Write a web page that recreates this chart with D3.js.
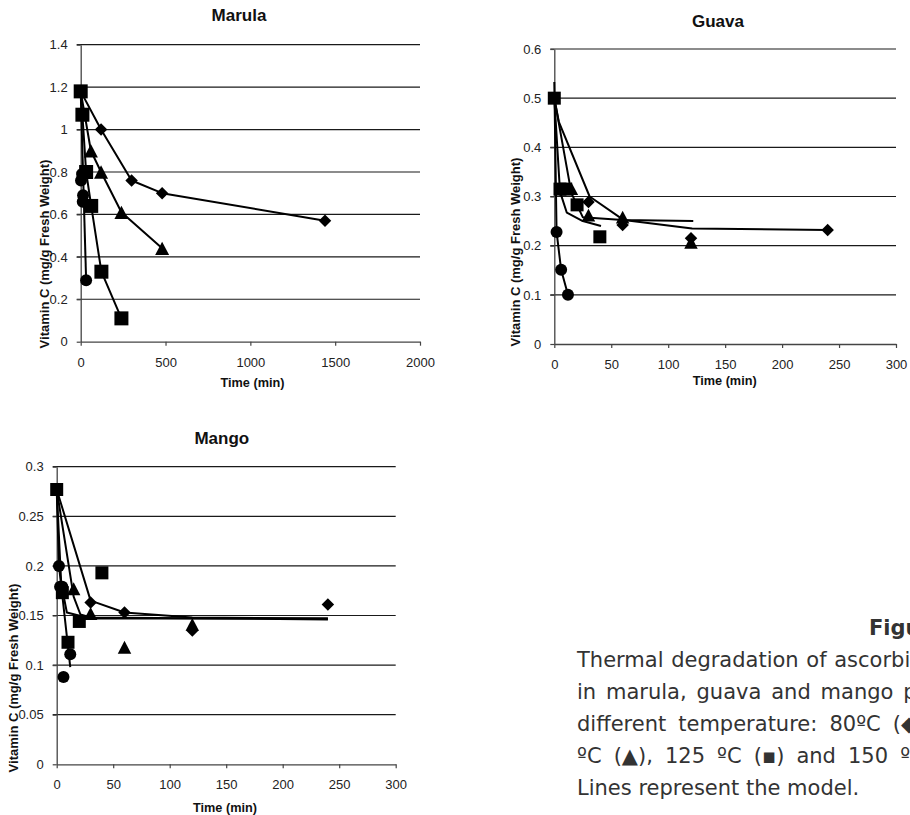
<!DOCTYPE html>
<html><head><meta charset="utf-8">
<script src="https://cdn.jsdelivr.net/npm/d3@7"></script>
<style>html,body{margin:0;padding:0;background:#fff;overflow:hidden}</style>
</head><body>
<svg id="chart" width="910" height="815"></svg>
<script>
// ================= DATA =================
const temperatures = ["80 ºC", "100 ºC", "125 ºC", "150 ºC"];
const markerShapes = ["diamond", "triangle", "square", "circle"];

// ---- Marula ----
const marulaXTicks = [0, 500, 1000, 1500, 2000];
const marulaYTicks = [0, 0.2, 0.4, 0.6, 0.8, 1, 1.2, 1.4];
const marulaTime80 = [120, 300, 480, 1440];
const marulaVit80 = [1.00, 0.76, 0.70, 0.57];
const marulaTime100 = [60, 120, 240, 480];
const marulaVit100 = [0.90, 0.80, 0.61, 0.44];
const marulaTime125 = [0, 10, 32, 62, 122, 240];
const marulaVit125 = [1.18, 1.07, 0.80, 0.64, 0.33, 0.11];
const marulaTime150 = [8, 2, 14, 12, 32];
const marulaVit150 = [0.79, 0.76, 0.69, 0.66, 0.29];
const marulaModelTime80 = [0, 120, 300, 480, 1440];
const marulaModelVit80 = [1.18, 1.00, 0.76, 0.70, 0.57];
const marulaModelTime100 = [0, 60, 120, 240, 480];
const marulaModelVit100 = [1.18, 0.90, 0.80, 0.61, 0.44];
const marulaModelTime125 = [0, 10, 32, 62, 122, 240];
const marulaModelVit125 = [1.18, 1.07, 0.80, 0.64, 0.33, 0.11];
const marulaModelTime150 = [0, 32];
const marulaModelVit150 = [1.18, 0.29];

// ---- Guava ----
const guavaXTicks = [0, 50, 100, 150, 200, 250, 300];
const guavaYTicks = [0, 0.1, 0.2, 0.3, 0.4, 0.5, 0.6];
const guavaTime80 = [30, 60, 120, 240];
const guavaVit80 = [0.289, 0.242, 0.215, 0.232];
const guavaTime100 = [15, 30, 60, 120];
const guavaVit100 = [0.316, 0.262, 0.258, 0.207];
const guavaTime125 = [0, 5, 10, 20, 40];
const guavaVit125 = [0.50, 0.315, 0.315, 0.283, 0.218];
const guavaTime150 = [2, 6, 12];
const guavaVit150 = [0.228, 0.151, 0.100];
const guavaModelTime80 = [0, 4, 31, 61, 121, 240];
const guavaModelVit80 = [0.50, 0.452, 0.300, 0.252, 0.235, 0.232];
const guavaModelTime100 = [0, 15, 25, 60, 122];
const guavaModelVit100 = [0.50, 0.307, 0.258, 0.252, 0.250];
const guavaModelTime125 = [0, 5, 11, 25, 41];
const guavaModelVit125 = [0.50, 0.31, 0.267, 0.250, 0.240];
const guavaModelTime150 = [0, 2, 6, 12];
const guavaModelVit150 = [0.533, 0.228, 0.151, 0.100];

// ---- Mango ----
const mangoXTicks = [0, 50, 100, 150, 200, 250, 300];
const mangoYTicks = [0, 0.05, 0.1, 0.15, 0.2, 0.25, 0.3];
const mangoTime80 = [30, 60, 120, 240];
const mangoVit80 = [0.163, 0.153, 0.135, 0.161];
const mangoTime100 = [15, 30, 60, 120];
const mangoVit100 = [0.177, 0.152, 0.118, 0.141];
const mangoTime125 = [0, 5, 10, 20, 40];
const mangoVit125 = [0.277, 0.173, 0.123, 0.144, 0.193];
const mangoTime150 = [2, 3, 5, 12, 6];
const mangoVit150 = [0.200, 0.179, 0.179, 0.111, 0.088];
const mangoModelTime80 = [0, 30, 60, 120, 240];
const mangoModelVit80 = [0.277, 0.165, 0.153, 0.148, 0.147];
const mangoModelTime100 = [0, 15, 21, 30, 240];
const mangoModelVit100 = [0.277, 0.169, 0.151, 0.148, 0.146];
const mangoModelTime125 = [0, 4, 9, 30, 240];
const mangoModelVit125 = [0.277, 0.182, 0.153, 0.147, 0.147];
const mangoModelTime150 = [0, 2, 5, 12];
const mangoModelVit150 = [0.277, 0.20, 0.17, 0.098];

// ---- Caption ----
const captionTitle = "Figure 1";
const captionLines = [
  "Thermal degradation of ascorbic acid",
  "in marula, guava and mango pulps at",
  "different temperature: 80ºC (◆), 100",
  "ºC (▲), 125 ºC (▪) and 150 ºC (●).",
  "Lines represent the model."
];

// ================= DRAWING =================
const svg = d3.select("#chart");
const FONT = "'Liberation Sans', Arial, sans-serif";
const zip = (t, v) => t.map((d, i) => ({t: d, v: v[i]}));

function markerPath(shape, s) {
  if (shape === "square") return `M${-s/2},${-s/2}h${s}v${s}h${-s}Z`;
  if (shape === "diamond") { const r = s * 0.5; return `M0,${-r}L${r},0L0,${r}L${-r},0Z`; }
  if (shape === "triangle") { const w = s, h = s * 0.95; return `M0,${-h/2}L${w/2},${h/2}L${-w/2},${h/2}Z`; }
  return d3.symbol(d3.symbolCircle, Math.PI * (s / 2) * (s / 2))();
}

function drawPanel(p) {
  const x = d3.scaleLinear().domain([p.xTicks[0], p.xTicks[p.xTicks.length - 1]]).range([p.left, p.right]);
  const y = d3.scaleLinear().domain([p.yTicks[0], p.yTicks[p.yTicks.length - 1]]).range([p.bottom, p.top]);
  const g = svg.append("g");

  g.selectAll("line.grid").data(p.yTicks.filter(d => d > 0)).join("line")
    .attr("x1", p.left - 4).attr("x2", p.right)
    .attr("y1", d => y(d)).attr("y2", d => y(d))
    .attr("stroke", "#1a1a1a").attr("stroke-width", 1.2);

  const fmt = d => String(+d.toFixed(2));
  const ya = g.append("g").attr("transform", `translate(${p.left},0)`)
    .call(d3.axisLeft(y).tickValues(p.yTicks).tickFormat(fmt).tickSize(4).tickSizeOuter(0).tickPadding(9));
  const xa = g.append("g").attr("transform", `translate(0,${p.bottom})`)
    .call(d3.axisBottom(x).tickValues(p.xTicks).tickFormat(fmt).tickSize(4).tickSizeOuter(0));
  [ya, xa].forEach(a => {
    a.select(".domain").attr("stroke", "#444").attr("stroke-width", 1.3);
    a.selectAll(".tick line").attr("stroke", "#444").attr("stroke-width", 1.2);
    a.selectAll("text").attr("font-family", FONT).attr("font-size", 13).attr("fill", "#222");
  });
  xa.selectAll("text").attr("y", 25).attr("dy", 0);

  const line = d3.line().x(d => x(d.t)).y(d => y(d.v));
  p.models.forEach(m => {
    g.append("path").datum(m).attr("d", line)
      .attr("fill", "none").attr("stroke", "#000").attr("stroke-width", 2).attr("stroke-linejoin", "round");
  });

  p.series.forEach(s => {
    g.selectAll(null).data(s.pts).join("path")
      .attr("transform", d => `translate(${x(d.t)},${y(d.v)})`)
      .attr("d", markerPath(s.shape, p.sizes[s.shape]))
      .attr("fill", "#000");
  });

  g.append("text").attr("x", p.title[1]).attr("y", p.title[2]).attr("text-anchor", "middle")
    .attr("font-family", FONT).attr("font-weight", "bold").attr("font-size", 17).attr("fill", "#111").text(p.title[0]);
  g.append("text").attr("x", p.xLabel[0]).attr("y", p.xLabel[1]).attr("text-anchor", "middle")
    .attr("font-family", FONT).attr("font-weight", "bold").attr("font-size", 12.7).attr("fill", "#111").text("Time (min)");
  g.append("text").attr("transform", `translate(${p.yLabel[0]},${p.yLabel[1]}) rotate(-90)`)
    .attr("text-anchor", "middle").attr("dominant-baseline", "central")
    .attr("font-family", FONT).attr("font-weight", "bold").attr("font-size", 13).attr("fill", "#111")
    .text("Vitamin C (mg/g Fresh Weight)");
}

const order = [0, 1, 3, 2]; // draw squares last
function buildSeries(times, vits) {
  return order.map(i => ({shape: markerShapes[i], pts: zip(times[i], vits[i])}));
}

drawPanel({
  left: 80.7, right: 420, top: 44.7, bottom: 341.7,
  xTicks: marulaXTicks, yTicks: marulaYTicks,
  title: ["Marula", 239, 20.5], xLabel: [252.5, 387], yLabel: [44, 254],
  sizes: {square: 14, diamond: 12.5, triangle: 14, circle: 12},
  models: [zip(marulaModelTime80, marulaModelVit80), zip(marulaModelTime100, marulaModelVit100),
           zip(marulaModelTime125, marulaModelVit125), zip(marulaModelTime150, marulaModelVit150)],
  series: buildSeries([marulaTime80, marulaTime100, marulaTime125, marulaTime150],
                      [marulaVit80, marulaVit100, marulaVit125, marulaVit150])
});

drawPanel({
  left: 554.3, right: 896, top: 49, bottom: 344,
  xTicks: guavaXTicks, yTicks: guavaYTicks,
  title: ["Guava", 718, 27], xLabel: [724.7, 385], yLabel: [515, 252],
  sizes: {square: 13, diamond: 12.5, triangle: 13.5, circle: 12},
  models: [zip(guavaModelTime80, guavaModelVit80), zip(guavaModelTime100, guavaModelVit100),
           zip(guavaModelTime125, guavaModelVit125), zip(guavaModelTime150, guavaModelVit150)],
  series: buildSeries([guavaTime80, guavaTime100, guavaTime125, guavaTime150],
                      [guavaVit80, guavaVit100, guavaVit125, guavaVit150])
});

drawPanel({
  left: 56.7, right: 395.7, top: 466.7, bottom: 764.3,
  xTicks: mangoXTicks, yTicks: mangoYTicks,
  title: ["Mango", 221.8, 444], xLabel: [225, 812], yLabel: [13, 678],
  sizes: {square: 13, diamond: 12.5, triangle: 13.5, circle: 12},
  models: [zip(mangoModelTime80, mangoModelVit80), zip(mangoModelTime100, mangoModelVit100),
           zip(mangoModelTime125, mangoModelVit125), zip(mangoModelTime150, mangoModelVit150)],
  series: buildSeries([mangoTime80, mangoTime100, mangoTime125, mangoTime150],
                      [mangoVit80, mangoVit100, mangoVit125, mangoVit150])
});

const CAP_FONT = "'DejaVu Sans', Verdana, sans-serif";
svg.append("text").attr("x", 869).attr("y", 635)
  .attr("font-family", CAP_FONT).attr("font-size", 21).attr("font-weight", "bold").attr("fill", "#333")
  .text(captionTitle);
const capSpacing = [1, 3.2, 5.4, 5.4, 0];
svg.selectAll("text.cap").data(captionLines).join("text").attr("class", "cap")
  .attr("x", 577).attr("y", (d, i) => 667 + i * 32)
  .attr("font-family", CAP_FONT).attr("font-size", 21).attr("fill", "#333")
  .attr("word-spacing", (d, i) => capSpacing[i])
  .text(d => d);
</script>
</body></html>
